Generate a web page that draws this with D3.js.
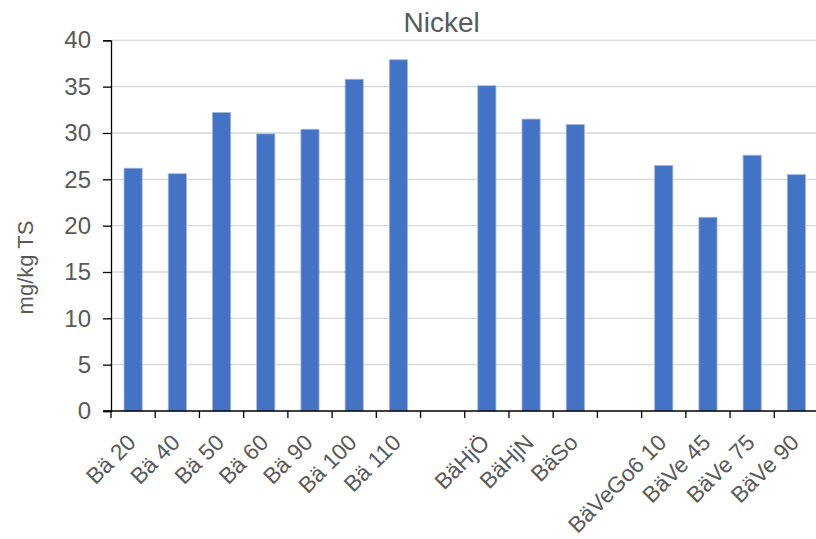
<!DOCTYPE html>
<html><head><meta charset="utf-8">
<script src="https://cdn.jsdelivr.net/npm/d3@7"></script>
<style>body{margin:0;background:#fff;}svg{display:block;font-family:"Liberation Sans",Arial,sans-serif;}</style>
</head><body>
<svg id="c" width="816" height="539"></svg>
<script>
const categories = ["Bä 20","Bä 40","Bä 50","Bä 60","Bä 90","Bä 100","Bä 110","","BäHjÖ","BäHjN","BäSo"," ","BäVeGo6 10","BäVe 45","BäVe 75","BäVe 90"];
const values = [26.2,25.6,32.2,29.9,30.4,35.8,37.9,null,35.1,31.5,30.9,null,26.5,20.9,27.6,25.5];
const yTicks = [0,5,10,15,20,25,30,35,40];
const title = "Nickel";
const yLabel = "mg/kg TS";

const svg = d3.select("#c");
const m = {left:111, right:818.5, top:40.3, bottom:411};
const x = d3.scaleBand().domain(categories).range([m.left, m.right]).paddingInner(0.59).paddingOuter(0.295);
const xb = d3.scaleBand().domain(categories).range([m.left, m.right]);
const y = d3.scaleLinear().domain([0,40]).range([m.bottom, m.top]);
const FONT = "Liberation Sans, Arial, sans-serif";

// gridlines
svg.append("g").selectAll("line").data(yTicks.filter(d=>d>0)).join("line")
  .attr("x1", m.left).attr("x2", m.right)
  .attr("y1", d=>y(d)).attr("y2", d=>y(d))
  .attr("stroke", "#d9d9d9").attr("stroke-width", 1.3);

// bars
const data = categories.map((c,i)=>({c, v: values[i]})).filter(d=>d.v!=null);
svg.append("g").selectAll("rect").data(data).join("rect")
  .attr("x", d=>x(d.c)).attr("width", x.bandwidth())
  .attr("y", d=>y(d.v)).attr("height", d=>y(0)-y(d.v))
  .attr("fill", "#4472c4").attr("stroke", "#9db5e0").attr("stroke-width", 0.8);

// y axis
const ya = d3.axisLeft(y).tickValues(yTicks).tickSize(8).tickPadding(12);
const yg = svg.append("g").attr("transform", `translate(${m.left},0)`).call(ya);
yg.attr("font-size", null).attr("font-family", null);
yg.select(".domain").attr("stroke", "#000").attr("stroke-width", 1.3);
yg.selectAll(".tick line").attr("stroke", "#000").attr("stroke-width", 1.3);
yg.selectAll("text").style("font-size", "24px").attr("fill", "#595959").style("font-family", FONT);

// x axis line + ticks at category boundaries
const xg = svg.append("g");
xg.append("line").attr("x1", m.left-8).attr("x2", m.right).attr("y1", m.bottom).attr("y2", m.bottom)
  .attr("stroke", "#000").attr("stroke-width", 1.3);
const bounds = categories.map(c=>xb(c)).concat([m.right]);
xg.selectAll("line.t").data(bounds).join("line").attr("class","t")
  .attr("x1", d=>d).attr("x2", d=>d).attr("y1", m.bottom).attr("y2", m.bottom+7)
  .attr("stroke", "#000").attr("stroke-width", 1.3);
xg.selectAll("text").data(categories.filter(c=>c.trim()!=="")).join("text")
  .attr("transform", d=>`translate(${x(d)+x.bandwidth()/2+4},${m.bottom+33}) rotate(-45)`)
  .attr("text-anchor", "end")
  .style("font-size", "22.5px").style("font-family", FONT).attr("fill", "#595959")
  .text(d=>d);

// title
svg.append("text").attr("x", 441.7).attr("y", 32).attr("text-anchor", "middle")
  .style("font-size", "28px").style("font-family", FONT).attr("fill", "#595959").text(title);

// y label
svg.append("text").attr("transform", `translate(33,267.5) rotate(-90)`).attr("text-anchor", "middle")
  .style("font-size", "22px").style("font-family", FONT).attr("fill", "#595959").text(yLabel);
</script>
</body></html>
